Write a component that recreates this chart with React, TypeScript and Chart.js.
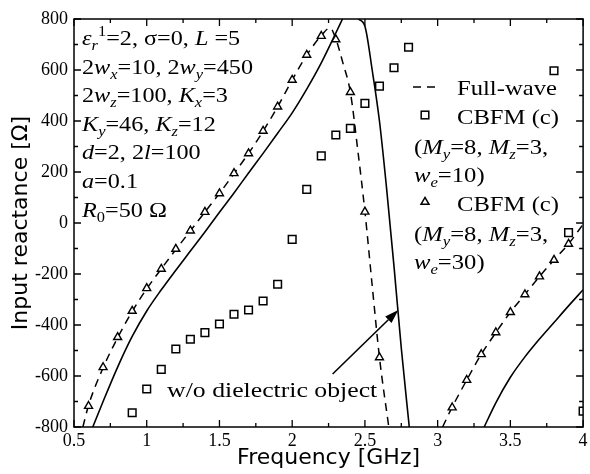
import { useEffect, useRef } from "react";
import { Chart, registerables } from "chart.js";

Chart.register(...registerables);

// ---------- data ----------
const fullWaveFreq = [0.561, 0.6, 0.7, 0.8, 0.9, 1.0, 1.1, 1.2, 1.3, 1.4, 1.5, 1.6, 1.7, 1.8, 1.9, 2.0, 2.1, 2.2, 2.26, 2.3, 2.35, 2.4, 2.45, 2.5, 2.55, 2.6, 2.664, 2.85, 3.034, 3.1, 3.2, 3.3, 3.4, 3.5, 3.6, 3.7, 3.8, 3.9, 4.0];
const fullWaveReact = [-800, -715, -568, -450, -347, -258, -180, -104, -31, 43, 116, 194, 273, 360, 456, 561, 658, 735, 765, 722, 625, 513, 290, 45, -245, -527, -800, null, -800, -722, -616, -515, -430, -350, -280, -210, -145, -82, -5];

const cbfm10Freq = [0.9, 1.0, 1.1, 1.2, 1.3, 1.4, 1.5, 1.6, 1.7, 1.8, 1.9, 2.0, 2.1, 2.2, 2.3, 2.4, 2.5, 2.6, 2.7, 2.8, 3.8, 3.9, 4.0];
const cbfm10React = [-744, -651, -574, -494, -456, -430, -396, -358, -341, -306, -240, -64, 132, 263, 345, 371, 469, 537, 609, 689, 597, -38, -738];

const cbfm30Freq = [0.6, 0.7, 0.8, 0.9, 1.0, 1.1, 1.2, 1.3, 1.4, 1.5, 1.6, 1.7, 1.8, 1.9, 2.0, 2.1, 2.2, 2.3, 2.4, 2.5, 2.6, 3.1, 3.2, 3.3, 3.4, 3.5, 3.6, 3.7, 3.8, 3.9];
const cbfm30React = [-718, -566, -448, -345, -256, -180, -102, -30, 43, 116, 195, 273, 361, 456, 561, 659, 733, 720, 513, 44, -527, -724, -616, -515, -429, -350, -280, -210, -145, -82];

const noDielFreq = [0.629, 0.7, 0.8, 0.9, 1.0, 1.1, 1.2, 1.3, 1.4, 1.5, 1.6, 1.7, 1.8, 1.9, 2.0, 2.1, 2.2, 2.3, 2.346, 2.4, 2.455, 2.5, 2.55, 2.6, 2.65, 2.7, 2.75, 2.805, 3.0, 3.32, 3.4, 3.5, 3.6, 3.7, 3.8, 3.9, 4.0];
const noDielReact = [-800, -700, -565, -445, -345, -262, -185, -110, -35, 42, 118, 196, 273, 352, 432, 525, 628, 745, 800, null, 800, 772, 600, 400, 130, -170, -490, -800, null, -800, -705, -605, -525, -455, -390, -325, -262];

const xMin = 0.5, xMax = 4, xStep = 0.5, xMinorStep = 0.25;
const yMin = -800, yMax = 800, yStep = 200, yMinorStep = 100;

// arrow annotation (data coordinates): tail -> head
const arrowFrom = { x: 2.278, y: -592 };
const arrowTo = { x: 2.73, y: -341 };
const noDielLabelPos = { x: 1.14, y: -682 };

const SERIF = '"Liberation Serif", "Times New Roman", serif';
const SANS = '"DejaVu Sans", sans-serif';

type Seg = { t: string; it?: boolean; sub?: boolean; sup?: boolean };

const paramLines: Seg[][] = [
  [{ t: "ε", it: true }, { t: "r", it: true, sub: true }, { t: "1", sup: true }, { t: "=2, σ=0, " }, { t: "L", it: true }, { t: " =5" }],
  [{ t: "2" }, { t: "w", it: true }, { t: "x", it: true, sub: true }, { t: "=10, 2" }, { t: "w", it: true }, { t: "y", it: true, sub: true }, { t: "=450" }],
  [{ t: "2" }, { t: "w", it: true }, { t: "z", it: true, sub: true }, { t: "=100, " }, { t: "K", it: true }, { t: "x", it: true, sub: true }, { t: "=3" }],
  [{ t: "K", it: true }, { t: "y", it: true, sub: true }, { t: "=46, " }, { t: "K", it: true }, { t: "z", it: true, sub: true }, { t: "=12" }],
  [{ t: "d", it: true }, { t: "=2, 2" }, { t: "l", it: true }, { t: "=100" }],
  [{ t: "a", it: true }, { t: "=0.1" }],
  [{ t: "R", it: true }, { t: "0", sub: true }, { t: "=50 Ω" }],
];

const myMz: Seg[] = [{ t: "(" }, { t: "M", it: true }, { t: "y", it: true, sub: true }, { t: "=8, " }, { t: "M", it: true }, { t: "z", it: true, sub: true }, { t: "=3," }];
const legendLines: Seg[][] = [
  [{ t: "Full-wave" }],
  [{ t: "CBFM (c)" }],
  myMz,
  [{ t: "w", it: true }, { t: "e", it: true, sub: true }, { t: "=10)" }],
  [{ t: "CBFM (c)" }],
  myMz,
  [{ t: "w", it: true }, { t: "e", it: true, sub: true }, { t: "=30)" }],
];
const legendTextX = [383, 383, 340, 340, 383, 340, 340];
const legendBaseY = [76, 105, 135, 163, 192, 222, 250];
const paramBaseY = [26, 55, 83, 112, 140, 169, 198];

const toPts = (xs: number[], ys: (number | null)[]) => xs.map((x, i) => ({ x, y: ys[i] }));

function drawRich(ctx: CanvasRenderingContext2D, x: number, y: number, segs: Seg[], size: number, sx: number) {
  ctx.save();
  ctx.translate(x, y);
  ctx.scale(sx, 1);
  ctx.textAlign = "left";
  ctx.textBaseline = "alphabetic";
  ctx.fillStyle = "#000";
  let cx = 0;
  for (const s of segs) {
    const fs = s.sub || s.sup ? size * 0.68 : size;
    ctx.font = `${s.it ? "italic " : ""}${fs}px ${SERIF}`;
    const dy = s.sub ? size * 0.22 : s.sup ? -size * 0.42 : 0;
    ctx.fillText(s.t, cx, dy);
    cx += ctx.measureText(s.t).width;
  }
  ctx.restore();
}

const decorPlugin = {
  id: "decor",
  afterDraw(chart: any) {
    const { ctx, chartArea: a, scales } = chart;
    const xs = scales.x, ys = scales.y;
    ctx.save();
    ctx.strokeStyle = "#000";
    ctx.lineWidth = 1.5;
    ctx.strokeRect(a.left, a.top, a.right - a.left, a.bottom - a.top);
    // inward ticks
    ctx.beginPath();
    const nx = Math.round((xMax - xMin) / xMinorStep);
    for (let i = 0; i <= nx; i++) {
      const v = xMin + i * xMinorStep;
      const px = xs.getPixelForValue(v);
      const len = i % 2 === 0 ? 7 : 4;
      ctx.moveTo(px, a.bottom); ctx.lineTo(px, a.bottom - len);
      ctx.moveTo(px, a.top); ctx.lineTo(px, a.top + len);
    }
    const ny = Math.round((yMax - yMin) / yMinorStep);
    for (let i = 0; i <= ny; i++) {
      const v = yMin + i * yMinorStep;
      const py = ys.getPixelForValue(v);
      const len = i % 2 === 0 ? 7 : 4;
      ctx.moveTo(a.left, py); ctx.lineTo(a.left + len, py);
      ctx.moveTo(a.right, py); ctx.lineTo(a.right - len, py);
    }
    ctx.lineWidth = 1.3;
    ctx.stroke();

    // parameter block
    paramLines.forEach((ln, i) => drawRich(ctx, a.left + 8, a.top + paramBaseY[i], ln, 22, 1.1));
    // legend text
    legendLines.forEach((ln, i) => drawRich(ctx, a.left + legendTextX[i], a.top + legendBaseY[i], ln, 22, 1.12));
    // legend samples
    ctx.lineWidth = 1.5;
    ctx.setLineDash([8, 6]);
    ctx.beginPath();
    ctx.moveTo(a.left + 339, a.top + 68);
    ctx.lineTo(a.left + 364, a.top + 68);
    ctx.stroke();
    ctx.setLineDash([]);
    ctx.fillStyle = "#fff";
    const sqx = a.left + 351, sqy = a.top + 96;
    ctx.fillRect(sqx - 3.8, sqy - 3.8, 7.6, 7.6);
    ctx.strokeRect(sqx - 3.8, sqy - 3.8, 7.6, 7.6);
    const tx = a.left + 351, ty = a.top + 183, r = 4.6;
    ctx.beginPath();
    ctx.moveTo(tx, ty - r);
    ctx.lineTo(tx + r * 0.866, ty + r * 0.5);
    ctx.lineTo(tx - r * 0.866, ty + r * 0.5);
    ctx.closePath();
    ctx.fill();
    ctx.stroke();

    // "w/o dielectric object" label and arrow
    drawRich(ctx, xs.getPixelForValue(noDielLabelPos.x), ys.getPixelForValue(noDielLabelPos.y), [{ t: "w/o dielectric object" }], 22, 1.17);
    const x1 = xs.getPixelForValue(arrowFrom.x), y1 = ys.getPixelForValue(arrowFrom.y);
    const x2 = xs.getPixelForValue(arrowTo.x), y2 = ys.getPixelForValue(arrowTo.y);
    const ang = Math.atan2(y2 - y1, x2 - x1);
    const hl = 14, hw = 4.5;
    const bx = x2 - hl * Math.cos(ang), by = y2 - hl * Math.sin(ang);
    ctx.lineWidth = 1.6;
    ctx.beginPath();
    ctx.moveTo(x1, y1);
    ctx.lineTo(bx, by);
    ctx.stroke();
    ctx.fillStyle = "#000";
    ctx.beginPath();
    ctx.moveTo(x2, y2);
    ctx.lineTo(bx + hw * Math.sin(ang), by - hw * Math.cos(ang));
    ctx.lineTo(bx - hw * Math.sin(ang), by + hw * Math.cos(ang));
    ctx.closePath();
    ctx.fill();
    ctx.restore();
  },
};

export default function App() {
  const ref = useRef<HTMLCanvasElement | null>(null);
  useEffect(() => {
    document.body.style.margin = "0";
    if (!ref.current) return;
    const chart = new Chart(ref.current, {
      type: "scatter",
      data: {
        datasets: [
          {
            label: "CBFM (c) we=10",
            data: toPts(cbfm10Freq, cbfm10React),
            showLine: false,
            pointStyle: "rect",
            pointRadius: 5.4,
            pointBorderWidth: 1.5,
            pointBorderColor: "#000",
            pointBackgroundColor: "#fff",
          },
          {
            label: "CBFM (c) we=30",
            data: toPts(cbfm30Freq, cbfm30React),
            showLine: false,
            pointStyle: "triangle",
            pointRadius: 4.6,
            pointBorderWidth: 1.4,
            pointBorderColor: "#000",
            pointBackgroundColor: "#fff",
          },
          {
            label: "Full-wave",
            data: toPts(fullWaveFreq, fullWaveReact),
            showLine: true,
            borderColor: "#000",
            borderWidth: 1.5,
            borderDash: [8, 6],
            pointRadius: 0,
            spanGaps: false,
            cubicInterpolationMode: "monotone",
          },
          {
            label: "w/o dielectric object",
            data: toPts(noDielFreq, noDielReact),
            showLine: true,
            borderColor: "#000",
            borderWidth: 1.6,
            pointRadius: 0,
            spanGaps: false,
            cubicInterpolationMode: "monotone",
          },
        ] as any,
      },
      options: {
        animation: false,
        responsive: false,
        events: [],
        layout: { padding: { top: 19, right: 2, left: 0, bottom: 0 } },
        plugins: { legend: { display: false }, tooltip: { enabled: false } },
        scales: {
          x: {
            type: "linear",
            min: xMin,
            max: xMax,
            grid: { display: false, drawTicks: false },
            border: { display: false },
            ticks: {
              stepSize: xStep,
              autoSkip: false,
              maxRotation: 0,
              padding: 3,
              color: "#000",
              font: { family: SERIF, size: 18 },
              callback: (v: any) => String(+v),
            },
            title: {
              display: true,
              text: "Frequency [GHz]",
              color: "#000",
              font: { family: SANS, size: 22 },
              padding: { top: 0, bottom: 3 },
            },
            afterFit: (s: any) => {
              s.height = 47;
              s.paddingLeft = 0;
              s.paddingRight = 0;
            },
          },
          y: {
            type: "linear",
            min: yMin,
            max: yMax,
            grid: { display: false, drawTicks: false },
            border: { display: false },
            ticks: {
              stepSize: yStep,
              autoSkip: false,
              padding: 6,
              color: "#000",
              font: { family: SERIF, size: 18 },
              callback: (v: any) => String(+v),
            },
            title: {
              display: true,
              text: "Input reactance [Ω]",
              color: "#000",
              font: { family: SANS, size: 22 },
              padding: { top: 8, bottom: 0 },
            },
            afterFit: (s: any) => {
              s.width = 74;
              s.paddingTop = 0;
              s.paddingBottom = 0;
            },
          },
        },
      } as any,
      plugins: [decorPlugin],
    });
    return () => chart.destroy();
  }, []);
  return (
    <div style={{ width: 590, height: 474, background: "#fff" }}>
      <canvas ref={ref} width={590} height={474} style={{ display: "block", width: 590, height: 474 }} />
    </div>
  );
}
